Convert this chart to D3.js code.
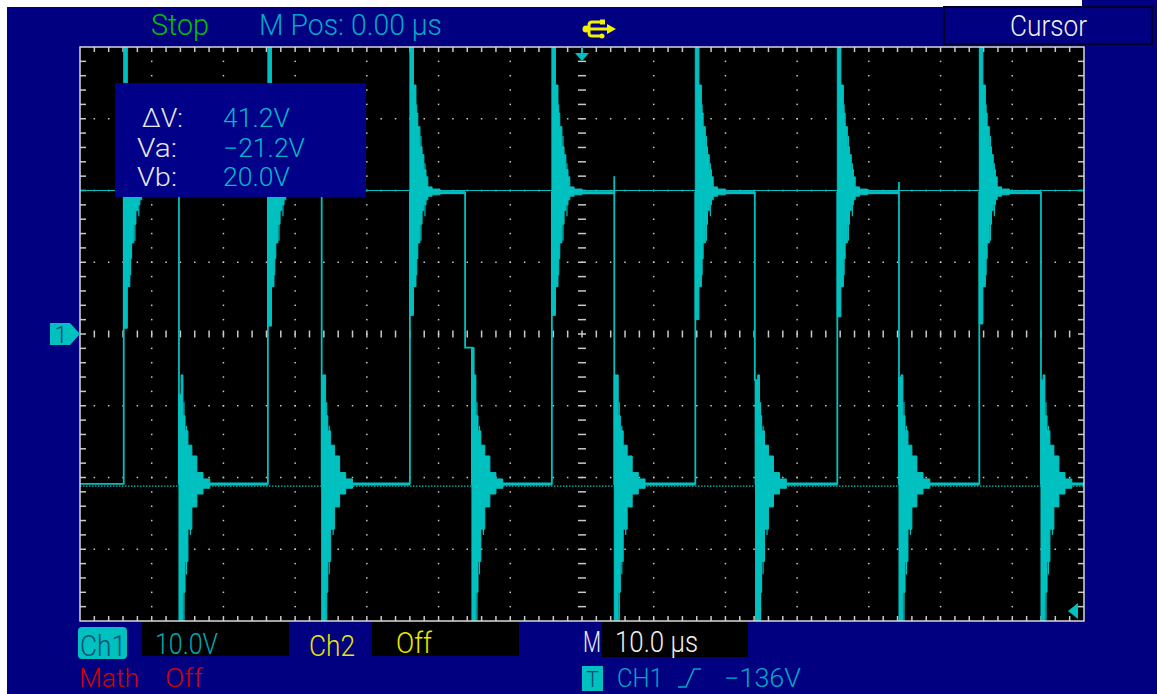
<!DOCTYPE html>
<html>
<head>
<meta charset="utf-8">
<script src="https://cdn.jsdelivr.net/npm/d3@7"></script>
<style>
  html, body { margin: 0; padding: 0; background: #000080; overflow: hidden; }
  svg { display: block; }
  text { font-family: Roboto, "Liberation Sans Narrow", "DejaVu Sans Condensed", sans-serif; font-weight: 300; }
</style>
</head>
<body>
<svg id="scope" width="1157" height="694"></svg>
<script>
// ---- scope settings ----
const voltsPerDiv = 10;      // Ch1 10.0V
const timePerDiv = 10;       // M 10.0 us
const hDivs = 14, vDivs = 8;

// ---- waveform (us / V) ----
const riseTimes = [-63.9, -43.8, -24.0, -4.2, 15.8, 35.6, 55.4];
const riseStep  = [0.8, 1.1, 2.6, 2.6, 2.0, 2.4, 1.4];
const fallTimes = [-56.2, -36.3, -16.3, 4.5, 24.1, 44.2, 64.0];
const fallStep  = [-8.4, -5.7, -1.9, -5.7, -6.4, -6.0, -6.4];
const fallDelay = [0, 0, 0.95, 0, 0.1, 0, 0];
const fallBlip  = [null, null, null, 22.0, null, 21.2, null];
const highLevel = 19.7;
const lowLevel  = -20.9;

// ringing envelope after a rising edge (offset us, upper V, lower V)
const ringUpT  = [0, 0.5, 0.85, 1.1, 1.4, 1.7, 1.95, 2.25, 2.5, 3.1, 4.2];
const ringUpHi = [48, 34.7, 30.8, 28.9, 26.1, 25.0, 22.9, 21.9, 20.5, 20.2, 19.8];
const ringUpLo = [null, 6.6, 10.5, 12.7, 15.3, 17.2, 18.0, 18.7, 19.2, 19.4, 19.7];
// single spikes sticking out of that envelope
const spikeUpT  = [0.3, 0.95, 1.55, 2.1];
const spikeUpHi = [48, 32.0, 27.6, 23.8];
const spikeUpLo = [1.5, 8.2, 13.0, 16.4];
// ringing envelope after a falling edge
const ringDnT  = [0, 0.3, 0.55, 0.85, 1.25, 1.8, 2.5, 3.35, 4.3];
const ringDnHi = [null, -5.7, -11.4, -13.5, -15.5, -17.0, -19.3, -20.2, -20.6];
const ringDnLo = [-48, -48, -36, -31.7, -27.2, -24.1, -22.3, -21.5, -21.1];
const spikeDnT  = [0.7, 1.05, 1.6, 2.2];
const spikeDnHi = [-9.5, -12.8, -15.6, -18.4];
const spikeDnLo = [-44, -33.5, -28.0, -23.6];

// cursors
const cursorVa = -21.2;
const cursorVb = 20.0;

const NAVY = '#000080';
const CYAN = '#00c0c0';
const GRID = '#c8c8c8';

const svg = d3.select('#scope');
svg.append('rect').attr('width', 1157).attr('height', 694).attr('fill', NAVY);
// white margin at the top and left of the capture
svg.append('rect').attr('x', 0).attr('y', 0).attr('width', 1082).attr('height', 7).attr('fill', '#fff');
svg.append('rect').attr('x', 0).attr('y', 0).attr('width', 7).attr('height', 694).attr('fill', '#fff');

// scales
const x = d3.scaleLinear().domain([-hDivs / 2 * timePerDiv, hDivs / 2 * timePerDiv]).range([80, 1084]);
const y = d3.scaleLinear().domain([-vDivs / 2 * voltsPerDiv, vDivs / 2 * voltsPerDiv]).range([621, 47]);
const [t0, t1] = x.domain();
const [v0, v1] = y.domain();

// screen
svg.append('rect').attr('x', x(t0)).attr('y', y(v1))
  .attr('width', x(t1) - x(t0)).attr('height', y(v0) - y(v1)).attr('fill', '#000');

svg.append('clipPath').attr('id', 'screen').append('rect')
  .attr('x', x(t0)).attr('y', y(v1)).attr('width', x(t1) - x(t0)).attr('height', y(v0) - y(v1));

const grid = svg.append('g');
const minorT = d3.range(t0, t1 + 0.01, timePerDiv / 5);
const minorV = d3.range(v0, v1 + 0.01, voltsPerDiv / 5);
const majorT = d3.range(t0 + timePerDiv, t1, timePerDiv).filter(t => Math.abs(t) > 0.01);
const majorV = d3.range(v0 + voltsPerDiv, v1, voltsPerDiv).filter(v => Math.abs(v) > 0.01);

// dotted graticule
majorT.forEach(t => minorV.slice(1, -1).forEach(v => {
  grid.append('rect').attr('x', x(t) - 0.75).attr('y', y(v) - 0.75).attr('width', 1.5).attr('height', 1.5).attr('fill', GRID);
}));
majorV.forEach(v => minorT.slice(1, -1).forEach(t => {
  grid.append('rect').attr('x', x(t) - 0.75).attr('y', y(v) - 0.75).attr('width', 1.5).attr('height', 1.5).attr('fill', GRID);
}));

// center axes with dashes, edge ticks
minorT.slice(1, -1).forEach(t => {
  grid.append('line').attr('x1', x(t)).attr('x2', x(t)).attr('y1', y(0) - 3.5).attr('y2', y(0) + 3.5)
    .attr('stroke', GRID).attr('stroke-width', 1.5);
  grid.append('line').attr('x1', x(t)).attr('x2', x(t)).attr('y1', y(v1)).attr('y2', y(v1) + 5)
    .attr('stroke', GRID).attr('stroke-width', 1.5);
  grid.append('line').attr('x1', x(t)).attr('x2', x(t)).attr('y1', y(v0)).attr('y2', y(v0) - 5)
    .attr('stroke', GRID).attr('stroke-width', 1.5);
});
minorV.slice(1, -1).forEach(v => {
  grid.append('line').attr('x1', x(0) - 4).attr('x2', x(0) + 4).attr('y1', y(v)).attr('y2', y(v))
    .attr('stroke', GRID).attr('stroke-width', 1.5);
  grid.append('line').attr('x1', x(t0)).attr('x2', x(t0) + 6).attr('y1', y(v)).attr('y2', y(v))
    .attr('stroke', GRID).attr('stroke-width', 1.5);
  grid.append('line').attr('x1', x(t1)).attr('x2', x(t1) - 6).attr('y1', y(v)).attr('y2', y(v))
    .attr('stroke', GRID).attr('stroke-width', 1.5);
});

// cursor lines
const plot = svg.append('g').attr('clip-path', 'url(#screen)');
plot.append('line').attr('x1', x(t0)).attr('x2', x(t1)).attr('y1', y(cursorVb)).attr('y2', y(cursorVb))
  .attr('stroke', CYAN).attr('stroke-width', 1.2);
plot.append('line').attr('x1', x(t0)).attr('x2', x(t1)).attr('y1', y(cursorVa)).attr('y2', y(cursorVa))
  .attr('stroke', CYAN).attr('stroke-width', 1.2).attr('stroke-dasharray', '1.5,1.5');

// trace skeleton
const trace = [[t0, lowLevel]];
riseTimes.forEach((r, i) => {
  trace.push([r, lowLevel], [r, riseStep[i]], [r, highLevel]);
  const f = fallTimes[i];
  trace.push([f, highLevel]);
  if (fallBlip[i] !== null) trace.push([f, fallBlip[i]]);
  trace.push([f, fallStep[i]], [f + fallDelay[i], fallStep[i]], [f + fallDelay[i], lowLevel]);
});
trace.push([t1, lowLevel]);

const line = d3.line().x(d => x(d[0])).y(d => y(d[1]));
plot.append('path').attr('d', line(trace)).attr('fill', 'none')
  .attr('stroke', CYAN).attr('stroke-width', 1.8);

// noisy plateaus after the ringing
riseTimes.forEach((r, i) => {
  const fs = fallTimes[i] + fallDelay[i];
  plot.append('line').attr('x1', x(r + ringUpT[ringUpT.length - 1])).attr('x2', x(fallTimes[i]))
    .attr('y1', y(highLevel)).attr('y2', y(highLevel)).attr('stroke', CYAN).attr('stroke-width', 3);
  const next = i + 1 < riseTimes.length ? riseTimes[i + 1] : t1;
  plot.append('line').attr('x1', x(fs + ringDnT[ringDnT.length - 1])).attr('x2', x(next))
    .attr('y1', y(lowLevel)).attr('y2', y(lowLevel)).attr('stroke', CYAN).attr('stroke-width', 3);
});

// ringing bursts
const ring = d3.area().x(d => x(d.t)).y0(d => y(d.lo)).y1(d => y(d.hi)).curve(d3.curveStepAfter);
riseTimes.forEach((r, i) => {
  const pts = ringUpT.map((dt, k) => ({ t: r + dt, hi: ringUpHi[k], lo: k === 0 ? riseStep[i] : ringUpLo[k] }));
  plot.append('path').attr('d', ring(pts)).attr('fill', CYAN).attr('stroke', CYAN).attr('stroke-width', 1);
  spikeUpT.forEach((dt, k) => {
    plot.append('line').attr('x1', x(r + dt)).attr('x2', x(r + dt))
      .attr('y1', y(spikeUpHi[k])).attr('y2', y(Math.max(spikeUpLo[k], riseStep[i])))
      .attr('stroke', CYAN).attr('stroke-width', 1.2);
  });
});
fallTimes.forEach((f, i) => {
  const s = f + fallDelay[i];
  const pts = ringDnT.map((dt, k) => ({ t: s + dt, hi: k === 0 ? fallStep[i] : ringDnHi[k], lo: ringDnLo[k] }));
  plot.append('path').attr('d', ring(pts)).attr('fill', CYAN).attr('stroke', CYAN).attr('stroke-width', 1);
  spikeDnT.forEach((dt, k) => {
    plot.append('line').attr('x1', x(s + dt)).attr('x2', x(s + dt))
      .attr('y1', y(spikeDnHi[k])).attr('y2', y(spikeDnLo[k]))
      .attr('stroke', CYAN).attr('stroke-width', 1.2);
  });
});

// frame
svg.append('rect').attr('x', x(t0)).attr('y', y(v1)).attr('width', x(t1) - x(t0)).attr('height', y(v0) - y(v1))
  .attr('fill', 'none').attr('stroke', '#d8d8d8').attr('stroke-width', 1.5);

// markers
svg.append('path').attr('fill', CYAN)
  .attr('d', `M${x(0) - 1},${y(v1)}h2v6h6l-7,8l-7,-8h6z`);
svg.append('path').attr('fill', CYAN)
  .attr('d', `M${x(t1)},${y(v0) - 10}h-6v-8l-10,8l10,8v-8z`);
svg.append('path').attr('fill', CYAN)
  .attr('d', `M50,${y(0) - 11}h20l10,11l-10,11h-20z`);
svg.append('text').attr('x', 61).attr('y', y(0) + 9).attr('text-anchor', 'middle')
  .attr('fill', '#005070').attr('font-size', 24).text('1');

// text helper
function label(str, x0, x1, base, color, size = 29) {
  const t = svg.append('text').attr('x', x0).attr('y', base).attr('fill', color)
    .attr('font-size', size).text(str);
  t.attr('textLength', x1 - x0).attr('lengthAdjust', 'spacingAndGlyphs');
  return t;
}

// top bar
label('Stop', 151, 209, 35, '#00c000');
label('M Pos: 0.00 \u00b5s', 259, 442, 35, '#00a8c8');
svg.append('rect').attr('x', 944).attr('y', 7).attr('width', 208).attr('height', 37)
  .attr('fill', NAVY).attr('stroke', '#00002a').attr('stroke-width', 2);
label('Cursor', 1010, 1087, 36, '#f0f0f0');

// usb icon
const usb = svg.append('g').attr('stroke', '#f0f000').attr('fill', 'none').attr('stroke-width', 3);
usb.append('line').attr('x1', 586).attr('x2', 609).attr('y1', 29).attr('y2', 29);
usb.append('path').attr('d', 'M601,22h-9q-3,0 -3,3v8q0,3 3,3h9');
svg.append('circle').attr('cx', 586).attr('cy', 29).attr('r', 3.5).attr('fill', '#f0f000');
svg.append('path').attr('d', 'M607,24l9,5l-9,5z').attr('fill', '#f0f000');
svg.append('rect').attr('x', 600).attr('y', 19.5).attr('width', 5).attr('height', 5).attr('fill', '#f0f000');
svg.append('circle').attr('cx', 602).attr('cy', 36).attr('r', 2.5).attr('fill', '#f0f000');

// cursor readout
svg.append('rect').attr('x', 115).attr('y', 83).attr('width', 251).attr('height', 114).attr('fill', '#000088');
label('\u0394V:', 142, 183, 127, '#e8e8e8', 25);
label('Va:', 137, 177, 157, '#e8e8e8', 25);
label('Vb:', 137, 177, 186, '#e8e8e8', 25);
label(`${(cursorVb - cursorVa).toFixed(1)}V`, 223, 290, 127, '#00b8c8', 25);
label(`\u2212${Math.abs(cursorVa).toFixed(1)}V`, 223, 305, 157, '#00b8c8', 25);
label(`${cursorVb.toFixed(1)}V`, 223, 290, 186, '#00b8c8', 25);

// bottom bar
svg.append('rect').attr('x', 78).attr('y', 627).attr('width', 49).attr('height', 32).attr('rx', 4).attr('fill', CYAN);
label('Ch1', 80, 126, 656, '#005070');
svg.append('rect').attr('x', 142).attr('y', 622).attr('width', 147).attr('height', 34).attr('fill', '#000');
label(`${voltsPerDiv.toFixed(1)}V`, 155, 218, 654, '#00a8b0');
label('Ch2', 309, 355, 656, '#e8e800');
svg.append('rect').attr('x', 372).attr('y', 622).attr('width', 147).attr('height', 34).attr('fill', '#000');
label('Off', 396, 432, 653, '#e8e800');
label('M', 583, 601, 652, '#f0f0f0');
svg.append('rect').attr('x', 602).attr('y', 622).attr('width', 146).attr('height', 35).attr('fill', '#000');
label(`${timePerDiv.toFixed(1)} \u00b5s`, 615, 698, 652, '#f0f0f0');
label('Math', 79, 139, 687, '#d00000', 25);
label('Off', 165, 203, 687, '#d00000', 25);
svg.append('rect').attr('x', 582).attr('y', 666).attr('width', 21).attr('height', 25).attr('fill', CYAN);
svg.append('text').attr('x', 592.5).attr('y', 687).attr('text-anchor', 'middle')
  .attr('fill', '#004a70').attr('font-size', 22).text('T');
label('CH1', 617, 663, 687, '#00a8c8', 25);
svg.append('path').attr('d', 'M678,687h8l8,-18h7').attr('fill', 'none')
  .attr('stroke', '#00a8c8').attr('stroke-width', 1.6);
label('\u2212136V', 724, 801, 687, '#00a8c8', 25);
</script>
</body>
</html>
